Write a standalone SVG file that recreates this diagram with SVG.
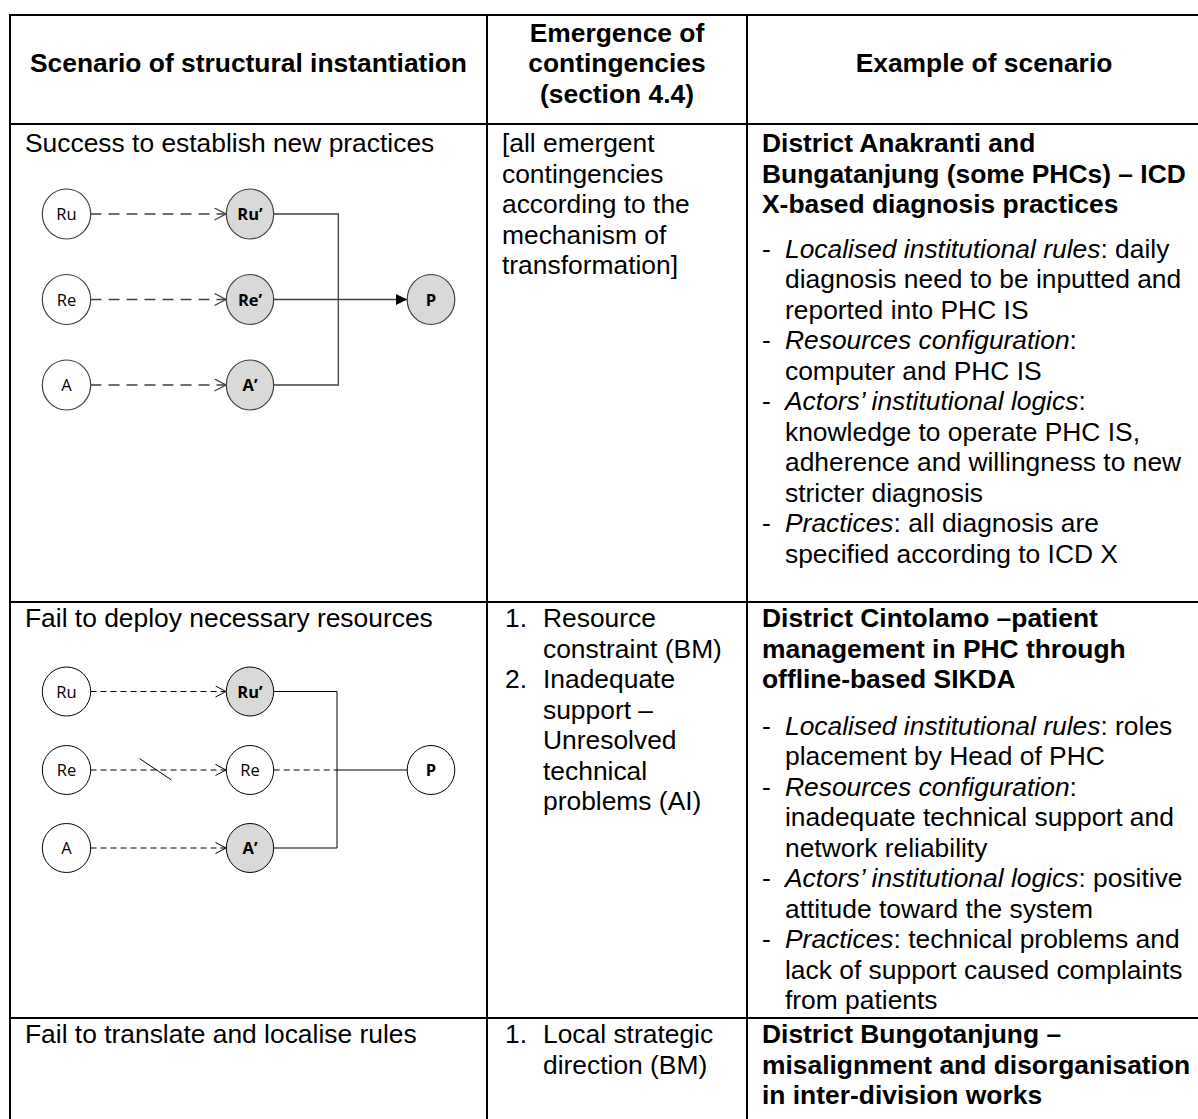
<svg xmlns="http://www.w3.org/2000/svg" width="1198" height="1119" viewBox="0 0 1198 1119">
  <style>
    .t{font-family:"Liberation Sans",Arial,sans-serif;font-size:26.4px;fill:#000}
    .b{font-weight:bold}
    .c{text-anchor:middle}
    .grid{stroke:#000;stroke-width:2;fill:none}
    .w1{fill:#fff;stroke:#404040;stroke-width:1.2}
    .g1{fill:#d9d9d9;stroke:#404040;stroke-width:1.2}
    .w2{fill:#fff;stroke:#000;stroke-width:1}
    .g2{fill:#d9d9d9;stroke:#000;stroke-width:1}
    .lbl{font-family:"Open Sans","Noto Sans",sans-serif;font-size:16.5px;text-anchor:middle;fill:#000}
    .lb{font-weight:bold}
    .d1{stroke:#404040;stroke-width:1.3;fill:none;stroke-dasharray:11 7}
    .s1{stroke:#404040;stroke-width:1.3;fill:none}
    .d2{stroke:#000;stroke-width:1;fill:none;stroke-dasharray:6 4}
    .s2{stroke:#000;stroke-width:1;fill:none}
  </style>
  <defs>
    <marker id="open1" markerUnits="userSpaceOnUse" markerWidth="14" markerHeight="14" refX="12" refY="6.5" orient="auto">
      <path d="M0.5,0.5 L12,6.5 L0.5,12.5" fill="none" stroke="#404040" stroke-width="1.3"/>
    </marker>
    <marker id="open2" markerUnits="userSpaceOnUse" markerWidth="14" markerHeight="14" refX="11" refY="6" orient="auto">
      <path d="M0.5,0.5 L11,6 L0.5,11.5" fill="none" stroke="#000" stroke-width="1"/>
    </marker>
    <marker id="solid1" markerUnits="userSpaceOnUse" markerWidth="14" markerHeight="14" refX="11" refY="5.5" orient="auto">
      <path d="M0,0 L11,5.5 L0,11 z" fill="#000"/>
    </marker>
  </defs>

  <rect width="1198" height="1119" fill="#fff"/>

  <!-- table rules -->
  <g id="table-grid" class="grid">
    <line x1="9" y1="15" x2="1198" y2="15"/>
    <line x1="10" y1="14" x2="10" y2="1119"/>
    <line x1="487" y1="15" x2="487" y2="1119"/>
    <line x1="747" y1="15" x2="747" y2="1119"/>
    <line x1="9" y1="124" x2="1198" y2="124"/>
    <line x1="9" y1="602" x2="1198" y2="602"/>
    <line x1="9" y1="1018" x2="1198" y2="1018"/>
  </g>

  <!-- header row -->
  <g id="header" class="t b">
    <text class="c" x="248.5" y="72">Scenario of structural instantiation</text>
    <text class="c" x="617" y="41.5">Emergence of</text>
    <text class="c" x="617" y="72">contingencies</text>
    <text class="c" x="617" y="102.5">(section 4.4)</text>
    <text class="c" x="984" y="72">Example of scenario</text>
  </g>

  <!-- row 1: success -->
  <g id="row1-text" class="t">
    <text x="25" y="152">Success to establish new practices</text>
    <text x="502" y="152">[all emergent</text>
    <text x="502" y="182.5">contingencies</text>
    <text x="502" y="213">according to the</text>
    <text x="502" y="243.5">mechanism of</text>
    <text x="502" y="274">transformation]</text>
    <text class="b" x="762" y="152">District Anakranti and</text>
    <text class="b" x="762" y="182.5">Bungatanjung (some PHCs) – ICD</text>
    <text class="b" x="762" y="213">X-based diagnosis practices</text>
    <text x="762" y="257.5">-</text>
    <text x="785" y="257.5"><tspan font-style="italic">Localised institutional rules</tspan>: daily</text>
    <text x="785" y="288">diagnosis need to be inputted and</text>
    <text x="785" y="318.5">reported into PHC IS</text>
    <text x="762" y="349">-</text>
    <text x="785" y="349"><tspan font-style="italic">Resources configuration</tspan>:</text>
    <text x="785" y="379.5">computer and PHC IS</text>
    <text x="762" y="410">-</text>
    <text x="785" y="410"><tspan font-style="italic">Actors’ institutional logics</tspan>:</text>
    <text x="785" y="440.5">knowledge to operate PHC IS,</text>
    <text x="785" y="471">adherence and willingness to new</text>
    <text x="785" y="501.5">stricter diagnosis</text>
    <text x="762" y="532">-</text>
    <text x="785" y="532"><tspan font-style="italic">Practices</tspan>: all diagnosis are</text>
    <text x="785" y="562.5">specified according to ICD X</text>
  </g>

  <!-- row 1 diagram connectors -->
  <g id="connectors-1">
    <line class="d1" x1="90.5" y1="214" x2="226" y2="214" marker-end="url(#open1)"/>
    <line class="d1" x1="90.5" y1="299.5" x2="226" y2="299.5" marker-end="url(#open1)"/>
    <line class="d1" x1="90.5" y1="385" x2="226" y2="385" marker-end="url(#open1)"/>
    <polyline class="s1" points="273.7,214 338.3,214 338.3,385 273.7,385"/>
    <line class="s1" x1="273.7" y1="299.5" x2="407" y2="299.5" marker-end="url(#solid1)"/>
  </g>

  <!-- row 1 diagram nodes -->
  <g id="r1-Ru"><ellipse class="w1" cx="66.5" cy="214" rx="24.2" ry="25"/><text class="lbl" x="66.5" y="220">Ru</text></g>
  <g id="r1-Re"><ellipse class="w1" cx="66.5" cy="299.5" rx="24.2" ry="25"/><text class="lbl" x="66.5" y="305.5">Re</text></g>
  <g id="r1-A"><ellipse class="w1" cx="66.5" cy="385" rx="24.2" ry="25"/><text class="lbl" x="66.5" y="391">A</text></g>
  <g id="r1-Ru2"><ellipse class="g1" cx="250" cy="214" rx="23.7" ry="25"/><text class="lbl lb" x="250" y="220">Ru’</text></g>
  <g id="r1-Re2"><ellipse class="g1" cx="250" cy="299.5" rx="23.7" ry="25"/><text class="lbl lb" x="250" y="305.5">Re’</text></g>
  <g id="r1-A2"><ellipse class="g1" cx="250" cy="385" rx="23.7" ry="25"/><text class="lbl lb" x="250" y="391">A’</text></g>
  <g id="r1-P"><ellipse class="g1" cx="431" cy="299.5" rx="23.8" ry="25"/><text class="lbl lb" x="431" y="305.5">P</text></g>

  <!-- row 2: fail to deploy resources -->
  <g id="row2-text" class="t">
    <text x="25" y="627">Fail to deploy necessary resources</text>
    <text x="505" y="627">1.</text>
    <text x="543" y="627">Resource</text>
    <text x="543" y="657.5">constraint (BM)</text>
    <text x="505" y="688">2.</text>
    <text x="543" y="688">Inadequate</text>
    <text x="543" y="718.5">support –</text>
    <text x="543" y="749">Unresolved</text>
    <text x="543" y="779.5">technical</text>
    <text x="543" y="810">problems (AI)</text>
    <text class="b" x="762" y="627">District Cintolamo –patient</text>
    <text class="b" x="762" y="657.5">management in PHC through</text>
    <text class="b" x="762" y="688">offline-based SIKDA</text>
    <text x="762" y="734.5">-</text>
    <text x="785" y="734.5"><tspan font-style="italic">Localised institutional rules</tspan>: roles</text>
    <text x="785" y="765">placement by Head of PHC</text>
    <text x="762" y="795.5">-</text>
    <text x="785" y="795.5"><tspan font-style="italic">Resources configuration</tspan>:</text>
    <text x="785" y="826">inadequate technical support and</text>
    <text x="785" y="856.5">network reliability</text>
    <text x="762" y="887">-</text>
    <text x="785" y="887"><tspan font-style="italic">Actors’ institutional logics</tspan>: positive</text>
    <text x="785" y="917.5">attitude toward the system</text>
    <text x="762" y="948">-</text>
    <text x="785" y="948"><tspan font-style="italic">Practices</tspan>: technical problems and</text>
    <text x="785" y="978.5">lack of support caused complaints</text>
    <text x="785" y="1009">from patients</text>
  </g>

  <!-- row 2 diagram connectors -->
  <g id="connectors-2">
    <line class="d2" x1="90.5" y1="691.5" x2="226" y2="691.5" marker-end="url(#open2)"/>
    <line class="d2" x1="90.5" y1="770" x2="226" y2="770" marker-end="url(#open2)"/>
    <line class="s2" x1="139.5" y1="758.5" x2="171.5" y2="780"/>
    <line class="d2" x1="90.5" y1="848" x2="226" y2="848" marker-end="url(#open2)"/>
    <line class="d2" x1="273.7" y1="770" x2="337" y2="770"/>
    <line class="s2" x1="337" y1="770" x2="407" y2="770"/>
    <polyline class="s2" points="273.7,691.5 337,691.5 337,848 273.7,848"/>
  </g>

  <!-- row 2 diagram nodes -->
  <g id="r2-Ru"><ellipse class="w2" cx="66.5" cy="691.5" rx="24.2" ry="24.5"/><text class="lbl" x="66.5" y="697.5">Ru</text></g>
  <g id="r2-Re"><ellipse class="w2" cx="66.5" cy="770" rx="24.2" ry="24.5"/><text class="lbl" x="66.5" y="776">Re</text></g>
  <g id="r2-A"><ellipse class="w2" cx="66.5" cy="848" rx="24.2" ry="24.5"/><text class="lbl" x="66.5" y="854">A</text></g>
  <g id="r2-Ru2"><ellipse class="g2" cx="250" cy="691.5" rx="23.7" ry="24.5"/><text class="lbl lb" x="250" y="697.5">Ru’</text></g>
  <g id="r2-Re2"><ellipse class="w2" cx="250" cy="770" rx="23.7" ry="24.5"/><text class="lbl" x="250" y="776">Re</text></g>
  <g id="r2-A2"><ellipse class="g2" cx="250" cy="848" rx="23.7" ry="24.5"/><text class="lbl lb" x="250" y="854">A’</text></g>
  <g id="r2-P"><ellipse class="w2" cx="431" cy="770" rx="23.8" ry="24.5"/><text class="lbl lb" x="431" y="776">P</text></g>

  <!-- row 3: fail to translate rules -->
  <g id="row3-text" class="t">
    <text x="25" y="1043">Fail to translate and localise rules</text>
    <text x="505" y="1043">1.</text>
    <text x="543" y="1043">Local strategic</text>
    <text x="543" y="1073.5">direction (BM)</text>
    <text class="b" x="762" y="1043">District Bungotanjung –</text>
    <text class="b" x="762" y="1073.5">misalignment and disorganisation</text>
    <text class="b" x="762" y="1104">in inter-division works</text>
  </g>
</svg>
